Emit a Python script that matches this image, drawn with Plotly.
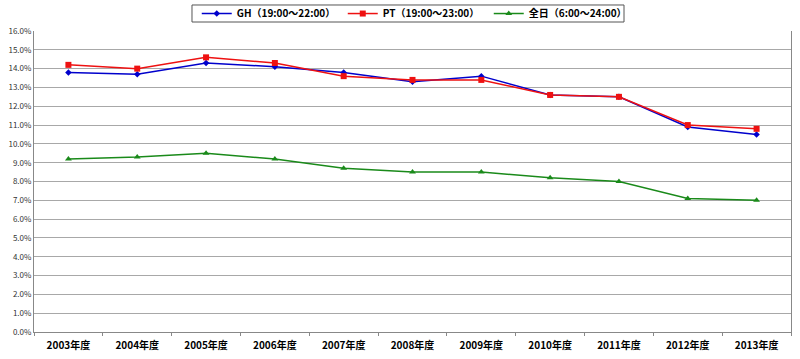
import plotly.graph_objects as go

years = ["2003年度", "2004年度", "2005年度", "2006年度", "2007年度", "2008年度",
         "2009年度", "2010年度", "2011年度", "2012年度", "2013年度"]
gh = [13.8, 13.7, 14.3, 14.1, 13.8, 13.3, 13.6, 12.6, 12.5, 10.9, 10.5]
pt = [14.2, 14.0, 14.6, 14.3, 13.6, 13.4, 13.4, 12.6, 12.5, 11.0, 10.8]
allday = [9.2, 9.3, 9.5, 9.2, 8.7, 8.5, 8.5, 8.2, 8.0, 7.1, 7.0]
names = ["GH（19:00～22:00）", "PT（19:00～23:00）", "全日（6:00～24:00）"]

font = "Noto Sans CJK JP"
fig = go.Figure()
fig.add_trace(go.Scatter(x=years, y=[v / 100 for v in gh], name=names[0], mode="lines+markers",
                         line=dict(color="#0000cc", width=1.5),
                         marker=dict(symbol="diamond", size=5, color="#0000cc")))
fig.add_trace(go.Scatter(x=years, y=[v / 100 for v in pt], name=names[1], mode="lines+markers",
                         line=dict(color="#ee1111", width=1.5),
                         marker=dict(symbol="square", size=6, color="#ee1111")))
fig.add_trace(go.Scatter(x=years, y=[v / 100 for v in allday], name=names[2], mode="lines+markers",
                         line=dict(color="#1a8a1a", width=1.5),
                         marker=dict(symbol="triangle-up", size=6, color="#1a8a1a")))

# legend frame
fig.add_shape(type="rect", xref="paper", yref="paper", x0=0.2087, x1=0.7794,
              y0=1.0299, y1=1.0864, line=dict(color="#555555", width=1),
              fillcolor="rgba(0,0,0,0)", layer="above")

fig.update_layout(
    width=800, height=359,
    margin=dict(l=34, r=9, t=31, b=27, autoexpand=False),
    paper_bgcolor="white", plot_bgcolor="white",
    font=dict(family=font, color="#000000"),
    showlegend=True,
    legend=dict(orientation="h", x=0.215, xanchor="left", y=1.058, yanchor="middle",
                borderwidth=0, bgcolor="rgba(0,0,0,0)",
                font=dict(family=font, size=10, weight="bold"), entrywidth=101, itemwidth=30,
                tracegroupgap=0),
    xaxis=dict(type="category", range=[-0.5, 10.5], tickson="boundaries", ticks="outside", ticklen=3,
               tickcolor="#888888", showline=True, linecolor="#888888", linewidth=1,
               showgrid=False, mirror=False, ticklabelstandoff=4,
               tickfont=dict(family=font, size=10, color="#000000", weight="bold")),
    yaxis=dict(range=[0, 0.16], dtick=0.01, tickformat=".1%", showline=True,
               linecolor="#888888", linewidth=1, mirror=True,
               showgrid=True, gridcolor="#a8a8a8", gridwidth=1, ticks="",
               zeroline=False,
               tickfont=dict(family=font, size=8, color="#333333")),
)
fig.write_html("out.html", config={"displayModeBar": False},
               post_script="document.body.style.margin='0';document.body.style.overflow='hidden';")
